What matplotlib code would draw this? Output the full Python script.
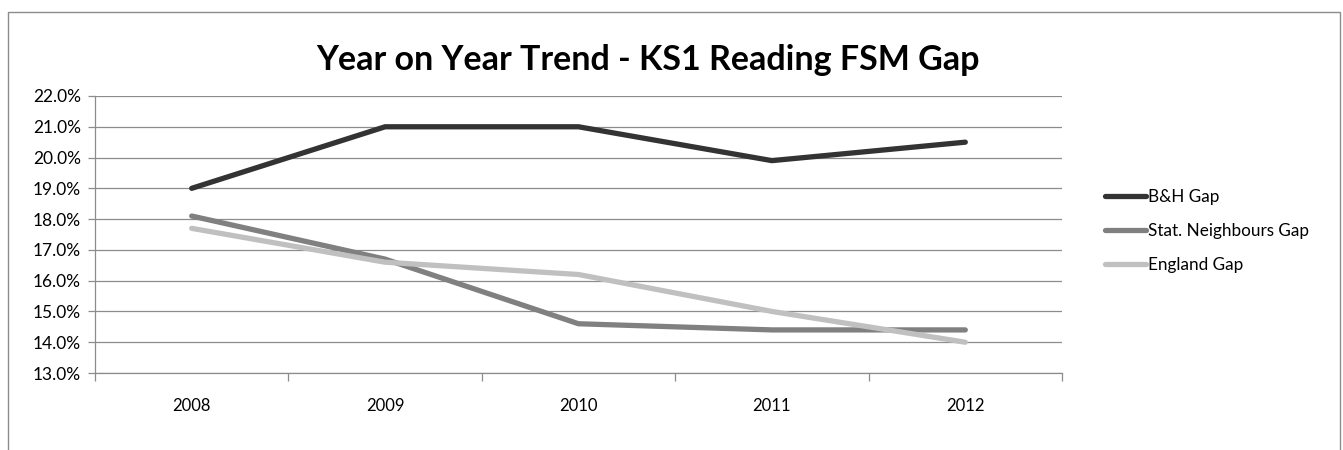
import matplotlib
matplotlib.use("Agg")
import matplotlib.pyplot as plt
from matplotlib.patches import Rectangle
from matplotlib.ticker import FixedLocator, FuncFormatter, NullFormatter

years = ["2008", "2009", "2010", "2011", "2012"]
bh_gap = [19.0, 21.0, 21.0, 19.9, 20.5]
stat_gap = [18.1, 16.7, 14.6, 14.4, 14.4]
england_gap = [17.7, 16.6, 16.2, 15.0, 14.0]
series_names = ["B&H Gap", "Stat. Neighbours Gap", "England Gap"]
colors = ["#333333", "#808080", "#c0c0c0"]
title = "Year on Year Trend - KS1 Reading FSM Gap"

plt.rcParams['font.family'] = ['Lato', 'DejaVu Sans']

W, H = 1343, 450
fig = plt.figure(figsize=(W / 100, H / 100), dpi=100)
fig.patch.set_facecolor("white")

# chart-area border
fig.add_artist(Rectangle((8 / W, -0.05), (1340 - 8) / W, 1.05 - 12 / H,
                         transform=fig.transFigure, fill=False,
                         edgecolor="#8c8c8c", lw=1.0))

ax = fig.add_axes([95 / W, 1 - 373 / H, (1062 - 95) / W, (373 - 96) / H])
x = list(range(len(years)))
for vals, name, c in zip([bh_gap, stat_gap, england_gap], series_names, colors):
    ax.plot(x, vals, color=c, lw=3.8, solid_capstyle="round",
            solid_joinstyle="round", label=name)

ax.set_xlim(-0.5, len(years) - 0.5)
ax.set_ylim(13, 22)
ax.yaxis.set_major_locator(FixedLocator([13 + i for i in range(10)]))
ax.yaxis.set_major_formatter(FuncFormatter(lambda v, p: f"{v:.1f}%"))
ax.grid(axis="y", color="#8c8c8c", lw=0.9)
ax.set_axisbelow(True)

ax.xaxis.set_major_locator(FixedLocator([i - 0.5 for i in range(len(years) + 1)]))
ax.xaxis.set_major_formatter(NullFormatter())
ax.xaxis.set_minor_locator(FixedLocator(x))
ax.set_xticklabels(years, minor=True)
ax.tick_params(axis="x", which="major", length=6, color="#8c8c8c", width=0.9)
ax.tick_params(axis="x", which="minor", length=0, pad=18, labelsize=12)
ax.tick_params(axis="y", length=5, color="#8c8c8c", width=0.9, labelsize=12.5, pad=5)

for s in ["top", "right"]:
    ax.spines[s].set_visible(False)
for s in ["left", "bottom"]:
    ax.spines[s].set_color("#8c8c8c")
    ax.spines[s].set_linewidth(0.9)

fig.text(648 / W, 1 - 60 / H, title, ha="center", va="center",
         fontsize=24.5, fontweight="bold")

leg = ax.legend(loc="upper left", bbox_to_anchor=(1098 / W, 1 - 182 / H),
                bbox_transform=fig.transFigure, frameon=False,
                fontsize=12.3, handlelength=2.4, handletextpad=0.1,
                labelspacing=1.05, borderaxespad=0)

fig.savefig("out.png", dpi=100)
